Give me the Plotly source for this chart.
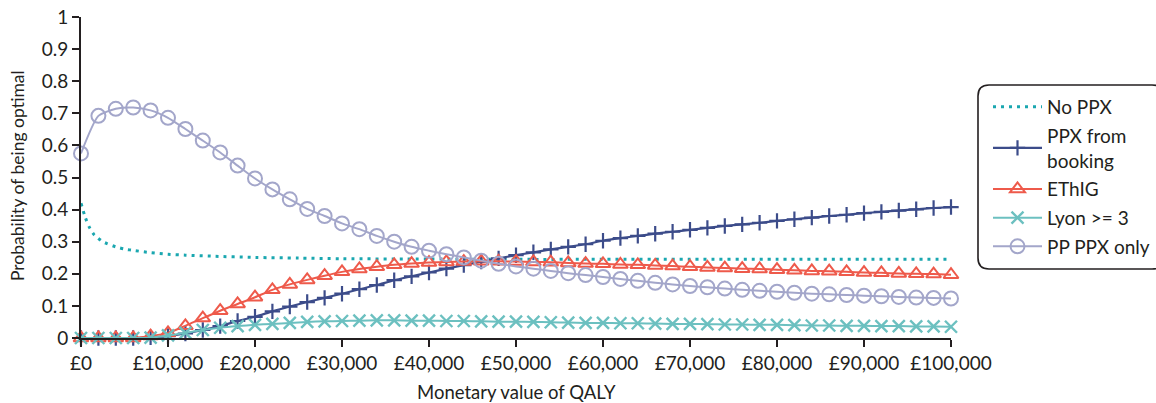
import plotly.graph_objects as go

# Willingness-to-pay thresholds (GBP per QALY)
wtp = list(range(0, 100001, 2000))

# No PPX: plotted as a smooth dotted curve on a finer grid
no_ppx_wtp = [0, 500, 1000, 1500, 2000, 2500, 3000, 4000, 5000, 6000, 8000, 10000,
              12000, 15000, 20000, 25000, 30000, 40000, 50000, 60000, 70000, 80000,
              90000, 100000]
no_ppx = [0.420, 0.375, 0.343, 0.322, 0.310, 0.300, 0.294, 0.284, 0.277, 0.273, 0.266,
          0.261, 0.258, 0.255, 0.251, 0.249, 0.247, 0.246, 0.245, 0.245, 0.245, 0.245,
          0.245, 0.245]

ppx_booking = [0.000, 0.000, 0.000, 0.000, 0.002, 0.006, 0.014, 0.025, 0.037, 0.053,
               0.066, 0.083, 0.098, 0.112, 0.125, 0.138, 0.152, 0.165, 0.180, 0.192,
               0.204, 0.216, 0.227, 0.238, 0.248, 0.258, 0.267, 0.276, 0.284, 0.292,
               0.303, 0.311, 0.318, 0.325, 0.331, 0.337, 0.343, 0.349, 0.354, 0.359,
               0.365, 0.370, 0.375, 0.380, 0.384, 0.389, 0.393, 0.397, 0.401, 0.405,
               0.408]

ethig = [0.000, 0.000, 0.000, 0.000, 0.006, 0.016, 0.038, 0.062, 0.085, 0.106,
         0.127, 0.150, 0.167, 0.181, 0.194, 0.206, 0.215, 0.222, 0.228, 0.232,
         0.235, 0.237, 0.238, 0.239, 0.239, 0.238, 0.237, 0.236, 0.234, 0.232,
         0.231, 0.229, 0.228, 0.226, 0.224, 0.222, 0.220, 0.218, 0.216, 0.215,
         0.213, 0.211, 0.209, 0.208, 0.206, 0.204, 0.203, 0.201, 0.200, 0.199,
         0.197]

lyon = [0.000, 0.000, 0.000, 0.000, 0.001, 0.008, 0.016, 0.025, 0.032, 0.037,
        0.041, 0.044, 0.047, 0.050, 0.052, 0.053, 0.054, 0.055, 0.055, 0.054,
        0.054, 0.053, 0.053, 0.052, 0.051, 0.051, 0.050, 0.049, 0.048, 0.047,
        0.047, 0.046, 0.046, 0.045, 0.044, 0.044, 0.043, 0.042, 0.042, 0.041,
        0.041, 0.040, 0.039, 0.039, 0.038, 0.038, 0.037, 0.037, 0.036, 0.036,
        0.035]

pp_ppx_only = [0.575, 0.692, 0.714, 0.718, 0.709, 0.686, 0.651, 0.615, 0.578, 0.537,
               0.497, 0.463, 0.432, 0.402, 0.380, 0.357, 0.339, 0.318, 0.300, 0.284,
               0.272, 0.261, 0.251, 0.241, 0.231, 0.223, 0.216, 0.209, 0.202, 0.196,
               0.190, 0.184, 0.178, 0.172, 0.167, 0.162, 0.158, 0.154, 0.150, 0.147,
               0.144, 0.141, 0.138, 0.136, 0.134, 0.132, 0.130, 0.128, 0.126, 0.125,
               0.123]

x_tickvals = list(range(0, 100001, 10000))
x_ticktext = ["£0", "£10,000", "£20,000", "£30,000", "£40,000", "£50,000",
              "£60,000", "£70,000", "£80,000", "£90,000", "£100,000"]
y_tickvals = [0, 0.1, 0.2, 0.3, 0.4, 0.5, 0.6, 0.7, 0.8, 0.9, 1]
y_ticktext = ["0", "0.1", "0.2", "0.3", "0.4", "0.5", "0.6", "0.7", "0.8", "0.9", "1"]

FONT = "Lato, 'Open Sans', sans-serif"
AXIS = "#231F20"
TEXT = "#231F20"

fig = go.Figure()

fig.add_trace(go.Scatter(
    x=no_ppx_wtp, y=no_ppx, name="No PPX", mode="lines", legendgroup="a",
    line=dict(color="#1AA7B0", width=3, dash="3px,5px", shape="spline", smoothing=0.8),
    cliponaxis=False))

fig.add_trace(go.Scatter(
    x=wtp, y=ppx_booking, name="PPX from<br>booking", mode="lines+markers", legendgroup="b",
    line=dict(color="#3C4C8A", width=2.2, shape="spline", smoothing=0.6),
    marker=dict(symbol="cross-thin-open", size=11, line=dict(color="#3C4C8A", width=2.2)),
    cliponaxis=False))

fig.add_trace(go.Scatter(
    x=wtp, y=ethig, name="EThIG", mode="lines+markers", legendgroup="c",
    line=dict(color="#EE5A4B", width=2, shape="spline", smoothing=0.6),
    marker=dict(symbol="triangle-up-open", size=13, line=dict(color="#EE5A4B", width=2)),
    cliponaxis=False))

fig.add_trace(go.Scatter(
    x=wtp, y=lyon, name="Lyon >= 3", mode="lines+markers", legendgroup="d",
    line=dict(color="#6CC0C0", width=2, shape="spline", smoothing=0.6),
    marker=dict(symbol="x-thin-open", size=12, line=dict(color="#6CC0C0", width=2.4)),
    cliponaxis=False))

fig.add_trace(go.Scatter(
    x=wtp, y=pp_ppx_only, name="PP PPX only", mode="lines+markers", legendgroup="e",
    line=dict(color="#A3A6CA", width=2, shape="spline", smoothing=0.6),
    marker=dict(symbol="circle-open", size=14, line=dict(color="#A3A6CA", width=2)),
    cliponaxis=False))

# Plot area in pixels
L, R, W, H = 81, 205, 1156, 403
T, B = 17, 65
pw, ph = W - L - R, H - T - B

def px_x(p):
    return (p - L) / pw

def px_y(p):
    return (H - B - p) / ph

# Rounded frame around the legend
bx0, bx1 = px_x(978), px_x(1163)
by0, by1 = px_y(269), px_y(85)
rx, ry = 11 / pw, 11 / ph
frame = (f"M {bx0 + rx},{by1} L {bx1 - rx},{by1} Q {bx1},{by1} {bx1},{by1 - ry} "
         f"L {bx1},{by0 + ry} Q {bx1},{by0} {bx1 - rx},{by0} "
         f"L {bx0 + rx},{by0} Q {bx0},{by0} {bx0},{by0 + ry} "
         f"L {bx0},{by1 - ry} Q {bx0},{by1} {bx0 + rx},{by1} Z")

fig.update_layout(
    width=W, height=H,
    margin=dict(l=L, r=R, t=T, b=B, autoexpand=False),
    paper_bgcolor="white", plot_bgcolor="white",
    font=dict(family=FONT, size=19, color=TEXT),
    shapes=[dict(type="path", path=frame, xref="paper", yref="paper",
                 line=dict(color=AXIS, width=1.6), fillcolor="rgba(0,0,0,0)", layer="below")],
    legend=dict(x=px_x(988), y=px_y(88), xanchor="left", yanchor="top",
                traceorder="grouped", tracegroupgap=1, bgcolor="rgba(0,0,0,0)",
                font=dict(family=FONT, size=19, color=TEXT), itemwidth=49),
    showlegend=True,
    annotations=[
        dict(text="Monetary value of QALY", xref="paper", yref="paper",
             x=px_x(516), y=px_y(392), xanchor="center", yanchor="middle",
             showarrow=False, font=dict(family=FONT, size=18.5, color=TEXT)),
        dict(text="Probability of being optimal", xref="paper", yref="paper",
             x=px_x(17), y=px_y(176), xanchor="center", yanchor="middle", textangle=-90,
             showarrow=False, font=dict(family=FONT, size=17.5, color=TEXT)),
    ],
)

fig.update_xaxes(
    range=[0, 100000], tickvals=x_tickvals, ticktext=x_ticktext, automargin=False,
    showline=True, linecolor=AXIS, linewidth=2, showgrid=False, zeroline=False,
    ticks="outside", ticklen=7, tickwidth=2, tickcolor=AXIS,
    tickfont=dict(family=FONT, size=19, color=TEXT),
)
fig.update_yaxes(
    range=[0, 1], tickvals=y_tickvals, ticktext=y_ticktext, automargin=False,
    showline=True, linecolor=AXIS, linewidth=2, showgrid=False, zeroline=False,
    ticks="outside", ticklen=7, tickwidth=2, tickcolor=AXIS,
    tickfont=dict(family=FONT, size=19, color=TEXT),
)

fig.write_html("out.html")
